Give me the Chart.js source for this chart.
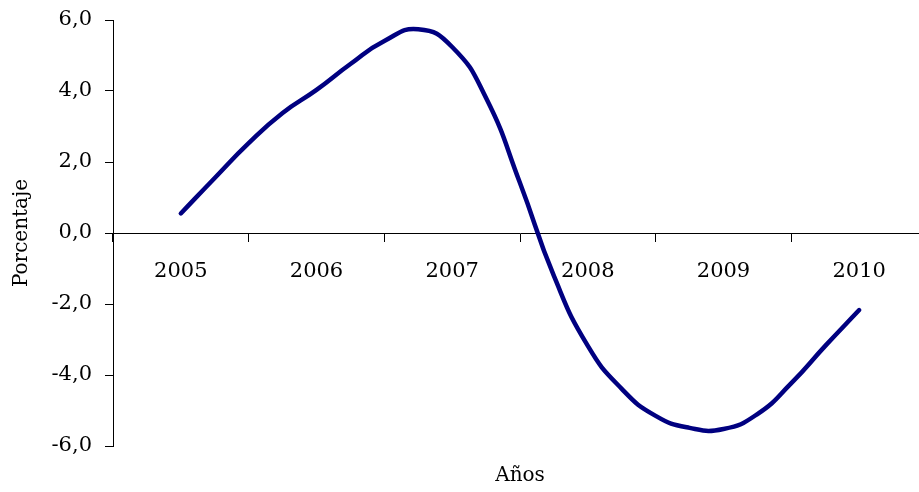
<!DOCTYPE html>
<html>
<head>
<meta charset="utf-8">
<script src="https://cdn.jsdelivr.net/npm/chart.js@4"></script>
<style>
  html, body { margin: 0; padding: 0; background: #fff; overflow: hidden; }
  #wrap { width: 927px; height: 492px; position: relative; }
</style>
</head>
<body>
<div id="wrap"><canvas id="growthChart"></canvas></div>
<script>
// Year labels on the axis crossing zero
const years = ["2005", "2006", "2007", "2008", "2009", "2010"];

// Quarterly observations
const quarters = [
  2005, 2005.25, 2005.5, 2005.75,
  2006, 2006.25, 2006.5, 2006.75,
  2007, 2007.25, 2007.5, 2007.75,
  2008, 2008.25, 2008.5, 2008.75,
  2009, 2009.25, 2009.5, 2009.75,
  2010
];
const growth = [
  0.55, 1.55, 2.53, 3.38,
  4.03, 4.76, 5.41, 5.74,
  5.24, 3.80, 1.41, -1.21,
  -3.18, -4.39, -5.15, -5.49,
  -5.52, -5.10, -4.23, -3.18,
  -2.17
];

const yTicks = [-6, -4, -2, 0, 2, 4, 6];

Chart.defaults.font.family = "'DejaVu Serif', serif";
Chart.defaults.color = "#000";

new Chart(document.getElementById("growthChart"), {
  type: "line",
  data: {
    datasets: [{
      label: "Porcentaje",
      data: quarters.map((q, i) => ({ x: q, y: growth[i] })),
      borderColor: "#000080",
      borderWidth: 4.5,
      borderCapStyle: "round",
      borderJoinStyle: "round",
      pointRadius: 0,
      fill: false,
      tension: 0.5,
      xAxisID: "x",
      yAxisID: "y"
    }]
  },
  options: {
    responsive: true,
    maintainAspectRatio: false,
    animation: false,
    layout: { padding: { top: 20, left: 0, right: 0, bottom: 0 } },
    plugins: {
      legend: { display: false },
      tooltip: { enabled: false }
    },
    scales: {
      x: {
        type: "linear",
        position: "bottom",
        min: 2004.5,
        max: 2010.5,
        grid: { display: false },
        border: { display: false },
        ticks: { display: false },
        title: {
          display: true,
          text: "Años",
          font: { size: 20 },
          padding: { top: 0, bottom: 4 }
        },
        afterFit: (scale) => { scale.height = 46; }
      },
      years: {
        type: "category",
        axis: "x",
        labels: years,
        position: { y: 0 },
        offset: true,
        grid: {
          offset: true,
          drawOnChartArea: false,
          drawTicks: true,
          tickLength: 8,
          color: "#000"
        },
        border: { display: true, color: "#000", width: 1 },
        ticks: { font: { size: 21 }, padding: 18, maxRotation: 0 }
      },
      y: {
        min: -6,
        max: 6,
        afterBuildTicks: (scale) => { scale.ticks = yTicks.map(v => ({ value: v })); },
        grid: {
          drawOnChartArea: false,
          drawTicks: true,
          tickLength: 8,
          color: "#000"
        },
        border: { display: true, color: "#000", width: 1 },
        ticks: {
          font: { size: 21 },
          padding: 13,
          callback: (v) => v.toFixed(1).replace(".", ",")
        },
        title: {
          display: true,
          text: "Porcentaje",
          font: { size: 20 },
          padding: { top: 10, bottom: 0 }
        },
        afterFit: (scale) => {
          scale.width = 113;
          scale.paddingTop = 0;
          scale.paddingBottom = 0;
        }
      }
    }
  }
});
</script>
</body>
</html>
